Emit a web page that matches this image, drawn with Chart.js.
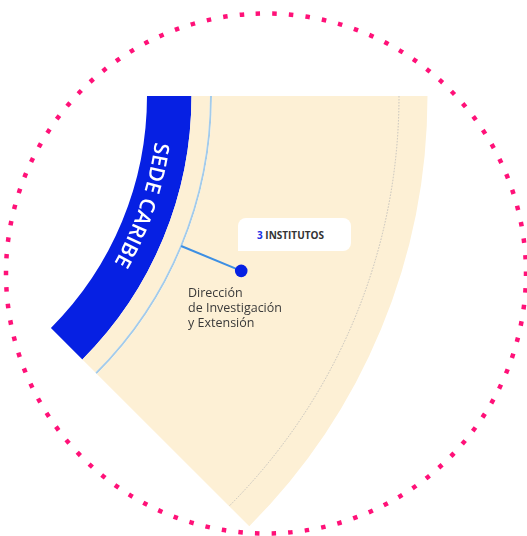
<!DOCTYPE html>
<html lang="es">
<head>
  <meta charset="UTF-8">
  <title>Sede Caribe</title>
  <script src="https://cdn.jsdelivr.net/npm/chart.js"></script>
  <style>
    html, body {
      margin: 0;
      padding: 0;
      background: #fff;
    }
    body {
      width: 527px;
      height: 536px;
      overflow: hidden;
      position: relative;
      font-family: 'Open Sans', sans-serif;
    }
    /* the wheel's centre sits off the page, to the left */
    #wrap {
      position: absolute;
      left: -901px;
      top: -624px;
      width: 1440px;
      height: 1440px;
    }
    .callout {
      position: absolute;
      left: 238px;
      top: 218px;
      width: 113px;
      height: 33px;
      box-sizing: border-box;
      padding-left: 19px;
      background: #fff;
      border-radius: 8px 8px 8px 0;
      font-size: 10px;
      font-weight: 700;
      line-height: 34px;
      color: #333;
    }
    .callout span { color: #1a2fe6; }
    .label {
      position: absolute;
      left: 188px;
      top: 285px;
      font-size: 12.5px;
      line-height: 15px;
      color: #3a3a3a;
    }
  </style>
</head>
<body>
  <div id="wrap"><canvas id="wheel" width="1440" height="1440"></canvas></div>
  <div class="callout" id="callout"></div>
  <div class="label" id="label"></div>

  <script>
    // datos
    const sedes = ['SEDE CARIBE'];
    const sectorGrados = [45, 315];       // porción de la rueda completa / resto
    const institutos = [3];
    const unidades = ['Dirección', 'de Investigación', 'y Extensión'];

    // anillos de afuera hacia adentro (grosor relativo)
    const anillos = ['exterior', 'linea', 'interior', 'sede'];
    const grosores = [215.5, 2, 18.5, 44.5];
    const colores = ['#fdf0d5', '#a3cbea', '#fdf0d5', '#0620e3'];
    const radioExterior = 608.5;
    const radioInterior = 328;

    const OFF_X = 901, OFF_Y = 624;   // posición del canvas en la página

    document.getElementById('callout').innerHTML =
      '<span>' + institutos[0] + '</span> INSTITUTOS';
    document.getElementById('label').innerHTML = unidades.join('<br>');

    const decoPlugin = {
      id: 'deco',
      beforeDatasetsDraw(chart) {
        // circulo punteado rosado
        const ctx = chart.ctx;
        const r = 260;
        const n = 98;
        const paso = 2 * Math.PI * r / n;
        ctx.save();
        ctx.strokeStyle = '#ff1178';
        ctx.lineWidth = 4.5;
        ctx.lineCap = 'butt';
        ctx.setLineDash([4.5, paso - 4.5]);
        ctx.beginPath();
        ctx.arc(266 + OFF_X, 273.5 + OFF_Y, r, -Math.PI / 2 - 0.04, 1.5 * Math.PI - 0.04);
        ctx.stroke();
        ctx.restore();
      },
      afterDatasetsDraw(chart) {
        const ctx = chart.ctx;
        const props = ['x', 'y', 'startAngle', 'endAngle', 'innerRadius', 'outerRadius'];
        const ext = chart.getDatasetMeta(0).data[0].getProps(props, true);
        const lin = chart.getDatasetMeta(1).data[0].getProps(props, true);
        const sede = chart.getDatasetMeta(3).data[0].getProps(props, true);
        const cx = ext.x, cy = ext.y;

        // arco gris punteado
        ctx.save();
        ctx.strokeStyle = '#c4c2bd';
        ctx.lineWidth = 1;
        ctx.setLineDash([1.5, 1.5]);
        ctx.beginPath();
        ctx.arc(cx, cy, ext.outerRadius - 28.5, ext.startAngle, ext.endAngle);
        ctx.stroke();
        ctx.restore();

        // conector y punto en el ángulo medio
        const mid = (lin.startAngle + lin.endAngle) / 2;
        const r0 = (lin.innerRadius + lin.outerRadius) / 2;
        const r1 = r0 + 65;
        ctx.save();
        ctx.strokeStyle = '#3d8fe3';
        ctx.lineWidth = 2;
        ctx.beginPath();
        ctx.moveTo(cx + r0 * Math.cos(mid), cy + r0 * Math.sin(mid));
        ctx.lineTo(cx + r1 * Math.cos(mid), cy + r1 * Math.sin(mid));
        ctx.stroke();
        ctx.fillStyle = '#0620e3';
        ctx.beginPath();
        ctx.arc(cx + r1 * Math.cos(mid), cy + r1 * Math.sin(mid), 6.3, 0, 2 * Math.PI);
        ctx.fill();
        ctx.restore();

        // texto curvo de la sede
        const text = sedes[0];
        const rb = sede.innerRadius + 11;
        ctx.save();
        ctx.fillStyle = '#fff';
        ctx.font = '600 21px "Open Sans"';
        ctx.textAlign = 'center';
        ctx.textBaseline = 'alphabetic';
        let a = sede.startAngle + 7.8 * Math.PI / 180;
        for (const ch of text) {
          const w = ctx.measureText(ch).width;
          const ac = a + (w / 2) / rb;
          ctx.save();
          ctx.translate(cx + rb * Math.cos(ac), cy + rb * Math.sin(ac));
          ctx.rotate(ac + Math.PI / 2);
          ctx.fillText(ch, 0, 0);
          ctx.restore();
          a += w / rb;
        }
        ctx.restore();
      }
    };

    new Chart(document.getElementById('wheel'), {
      type: 'doughnut',
      data: {
        labels: [sedes[0], 'resto'],
        datasets: anillos.map((nombre, i) => ({
          label: nombre,
          data: sectorGrados,
          weight: grosores[i],
          backgroundColor: [colores[i], 'rgba(0,0,0,0)'],
          borderWidth: 0
        }))
      },
      options: {
        responsive: false,
        animation: false,
        events: [],
        rotation: 90,
        circumference: 360,
        radius: radioExterior,
        cutout: (radioInterior / radioExterior * 100) + '%',
        layout: { padding: 0 },
        plugins: {
          legend: { display: false },
          tooltip: { enabled: false }
        }
      },
      plugins: [decoPlugin]
    });
  </script>
</body>
</html>
